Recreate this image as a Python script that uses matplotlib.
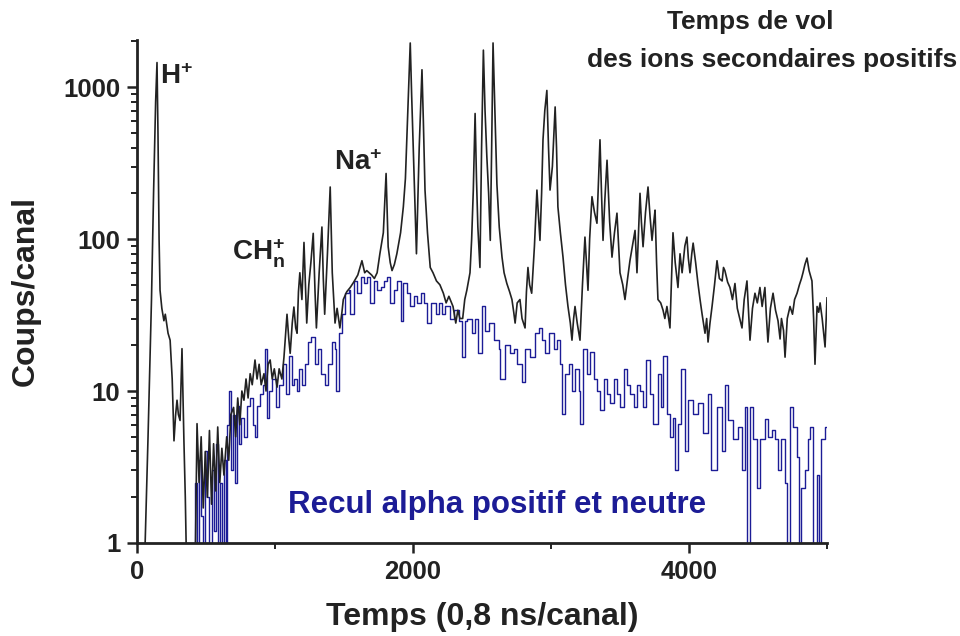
"""Temps de vol des ions secondaires positifs (log scale spectrum)"""
import matplotlib
matplotlib.use("Agg")
import matplotlib.pyplot as plt
from matplotlib.ticker import LogLocator, NullFormatter, FixedLocator

# canal / coups, spectre des ions secondaires (noir)
ion_channels = [
    0, 50, 80, 105, 120, 135, 145, 152, 160, 167, 180, 195, 205, 225, 240,
    255, 268, 280, 290, 300, 312, 326, 340, 350, 362, 380, 400, 420, 435,
    450, 465, 480, 495, 510, 525, 540, 555, 570, 585, 600, 615, 630, 650,
    665, 680, 700, 715, 730, 745, 760, 775, 790, 805, 820, 835, 855, 870,
    885, 900, 920, 935, 950, 965, 980, 995, 1015, 1030, 1050, 1065, 1087,
    1100, 1110, 1125, 1137, 1150, 1160, 1170, 1180, 1195, 1210, 1230, 1245,
    1260, 1277, 1290, 1300, 1320, 1340, 1350, 1360, 1380, 1400, 1415, 1435,
    1450, 1470, 1485, 1495, 1520, 1545, 1570, 1600, 1630, 1650, 1665, 1700,
    1720, 1740, 1760, 1785, 1805, 1820, 1835, 1848, 1865, 1883, 1910, 1930,
    1945, 1955, 1970, 1980, 1990, 2000, 2012, 2025, 2045, 2065, 2075, 2087,
    2105, 2125, 2145, 2170, 2195, 2220, 2240, 2260, 2290, 2310, 2325, 2340,
    2360, 2375, 2390, 2413, 2425, 2437, 2450, 2460, 2470, 2485, 2497, 2510,
    2522, 2535, 2548, 2560, 2570, 2580, 2595, 2608, 2625, 2645, 2660, 2680,
    2700, 2717, 2730, 2740, 2755, 2775, 2790, 2812, 2822, 2833, 2845, 2860,
    2880, 2898, 2910, 2920, 2932, 2942, 2955, 2970, 2982, 2993, 3010, 3030,
    3040, 3050, 3068, 3087, 3105, 3123, 3140, 3152, 3164, 3174, 3190, 3210,
    3228, 3246, 3257, 3268, 3280, 3297, 3315, 3333, 3345, 3355, 3366, 3377,
    3390, 3406, 3425, 3442, 3460, 3478, 3490, 3500, 3520, 3536, 3555, 3572,
    3590, 3609, 3623, 3645, 3655, 3667, 3685, 3703, 3718, 3732, 3745, 3754,
    3765, 3775, 3795, 3812, 3825, 3840, 3862, 3875, 3884, 3900, 3920, 3935,
    3950, 3970, 3985, 3995, 4007, 4020, 4030, 4048, 4065, 4080, 4095, 4116,
    4128, 4138, 4152, 4167, 4185, 4203, 4220, 4240, 4250, 4260, 4280, 4297,
    4315, 4333, 4350, 4368, 4384, 4400, 4420, 4430, 4442, 4460, 4478, 4495,
    4514, 4530, 4550, 4560, 4572, 4590, 4609, 4627, 4645, 4660, 4670, 4685,
    4696, 4712, 4732, 4750, 4765, 4783, 4800, 4815, 4826, 4840, 4855, 4870,
    4891, 4903, 4913, 4928, 4940, 4950, 4965, 4986, 5000,
]
ion_counts = [
    0.5, 0.5, 5, 40, 200, 800, 1450, 500, 100, 46, 35, 29, 32, 24, 21.6,
    12, 4.7, 7, 8.7, 7, 6.4, 19, 4.7, 2, 0.5, 0.5, 0.5, 0.5, 6.1,
    2.5, 5, 1.7, 4, 2, 5.5, 1.8, 4.5, 2.2, 5.8, 2.5, 4.2, 2.8, 5,
    3.5, 7, 7.8, 5, 9, 6, 10, 8.7, 12, 9, 13, 11, 16, 12,
    15, 11, 13, 10, 15, 16, 12, 14, 10.6, 14, 12, 16.7, 32,
    22, 17.7, 28, 35.7, 26, 24, 45, 60, 40, 95, 28, 50,
    70, 109, 45, 26, 60, 120, 55, 32, 80, 220, 60, 28,
    35, 26, 33, 40, 45, 48, 52, 58, 72, 60, 62, 58,
    55, 60, 80, 110, 270, 89, 70, 62, 68, 80, 110, 163,
    250, 450, 1100, 1950, 900, 450, 200, 80, 400, 1300, 600, 210,
    110, 65, 60, 53, 50, 44, 38, 42, 36, 28, 34, 30,
    30, 40, 46, 60, 100, 210, 670, 250, 120, 65, 400, 1750,
    700, 350, 200, 98, 400, 1950, 600, 230, 120, 76, 60, 51,
    45, 40, 33, 28, 38, 40, 30, 26, 45, 65, 50, 44,
    90, 210, 140, 98, 200, 450, 700, 950, 400, 210, 300, 740,
    400, 163, 110, 76, 50, 36, 28, 21.6, 30, 36, 28, 21.6,
    50, 103, 70, 46, 100, 190, 150, 127, 250, 450, 200, 98,
    180, 330, 130, 76, 110, 148, 90, 60, 50, 40, 55, 72,
    90, 114, 60, 200, 130, 89, 150, 220, 140, 98, 130, 155,
    70, 40, 38, 34, 30, 36, 26, 60, 110, 70, 48, 80,
    60, 90, 103, 75, 60, 80, 94, 70, 51, 40, 32, 24,
    30, 21, 28, 36, 50, 72, 55, 53, 65, 62, 52, 48,
    40, 51, 35, 30, 26, 40, 53, 35, 21.6, 35, 44, 38,
    48, 36, 48, 32, 21, 35, 44, 34, 29, 22, 30, 25,
    16.7, 30, 36, 32, 40, 44, 50, 55, 60, 68, 75, 62,
    53, 30, 15, 36, 33, 38, 30, 19.5, 41,
]

# canal / coups, recul alpha positif et neutre (bleu)
recoil_channels = [
    400, 420, 435, 450, 465, 480, 495, 510, 525, 540, 555, 570, 585, 600,
    615, 630, 645, 655, 668, 680, 695, 710, 725, 740, 755, 775, 795, 820,
    840, 855, 870, 890, 910, 925, 945, 960, 980, 1005, 1030, 1055, 1080,
    1105, 1125, 1140, 1160, 1175, 1195, 1215, 1240, 1260, 1290, 1315, 1335,
    1360, 1385, 1410, 1435, 1445, 1465, 1485, 1510, 1535, 1545, 1570, 1595,
    1620, 1645, 1665, 1690, 1715, 1740, 1765, 1790, 1815, 1835, 1860, 1885,
    1910, 1930, 1955, 1980, 2005, 2030, 2055, 2080, 2100, 2130, 2165, 2190,
    2210, 2235, 2270, 2295, 2330, 2355, 2380, 2390, 2425, 2450, 2470, 2500,
    2525, 2550, 2585, 2620, 2632, 2670, 2705, 2730, 2755, 2790, 2815, 2850,
    2887, 2910, 2935, 2960, 2983, 3020, 3043, 3068, 3080, 3105, 3128, 3152,
    3177, 3200, 3213, 3232, 3262, 3285, 3310, 3333, 3358, 3382, 3406, 3430,
    3455, 3478, 3503, 3527, 3550, 3575, 3600, 3623, 3645, 3667, 3690, 3715,
    3740, 3775, 3800, 3812, 3837, 3862, 3885, 3898, 3920, 3945, 3970, 3995,
    4030, 4067, 4103, 4140, 4163, 4200, 4236, 4260, 4284, 4320, 4357, 4381,
    4405, 4421, 4442, 4466, 4490, 4514, 4550, 4574, 4598, 4622, 4647, 4670,
    4695, 4710, 4730, 4755, 4780, 4800, 4815, 4840, 4862, 4880, 4900, 4925,
    4945, 4960, 4985, 5000,
]
recoil_counts = [
    0.5, 2.5, 0.5, 3.5, 1.5, 0.5, 4, 2, 0.5, 3, 1.2, 4.5, 0.5, 2.5,
    0.5, 3.5, 0.5, 6, 10, 3, 7, 2.5, 8, 4.5, 6.6, 5, 8, 9,
    6, 5, 8, 9.5, 11, 19, 6.6, 10, 12, 7.8, 11, 15, 9.5,
    17, 11, 12, 10, 14, 11, 15, 21, 22.7, 15, 19, 13,
    11, 15, 21, 19, 10, 24, 32, 44, 46, 32, 53, 44,
    56, 51, 56, 38, 53, 46, 48, 53, 56, 38, 46, 53,
    29, 51, 44, 36, 42, 38, 44, 38, 28, 38, 32, 38,
    32, 36, 30, 34, 29, 16.7, 29, 30, 24, 30, 17.7, 36,
    25, 28, 21.6, 19, 12, 20, 17.7, 19, 15, 11.5, 19, 16.7,
    24, 26, 21.6, 17.7, 24, 19, 21.6, 15, 7.1, 13, 15, 10,
    14, 10, 6.1, 19, 13, 18, 12, 10, 7.5, 12, 9.5, 8.3,
    12, 9.5, 7.8, 14, 11, 9.5, 7.8, 11, 10, 7.8, 16, 9.5,
    6.1, 13, 7.8, 17, 7.1, 5, 6.6, 3, 6.1, 14, 4, 8.7,
    7.1, 8.3, 5.3, 9.5, 3, 7.8, 4, 11, 6.4, 4.8, 5.8, 3,
    7.8, 0.5, 7.8, 4.8, 2.3, 4.8, 6.5, 5, 5.5, 4.8, 3, 4.8,
    2.5, 0.5, 7.8, 5.8, 3.7, 0.5, 2.3, 3, 4.8, 5.8, 0.5, 2.8,
    0.5, 4.8, 5.8, 5.8,
]

plt.rcParams['font.family'] = ['Liberation Sans', 'DejaVu Sans']
plt.rcParams['font.weight'] = 'bold'
plt.rcParams['mathtext.fontset'] = 'custom'
plt.rcParams['mathtext.rm'] = 'Liberation Sans:bold'
plt.rcParams['mathtext.bf'] = 'Liberation Sans:bold'
plt.rcParams['mathtext.default'] = 'bf'

ink = '#222222'
blue = '#1c1c96'

fig = plt.figure(figsize=(9.6, 6.36), dpi=100)
ax = fig.add_axes([137 / 960, 93 / 636, 690 / 960, 503 / 636])

ax.plot(recoil_channels, recoil_counts, drawstyle='steps-post',
        color=blue, linewidth=1.0)
ax.plot(ion_channels, ion_counts, color=ink, linewidth=1.2)

ax.set_yscale('log')
ax.set_xlim(0, 5000)
ax.set_ylim(1, 2040)

ax.set_yticks([1, 10, 100, 1000])
ax.set_yticklabels(['1', '10', '100', '1000'])
ax.yaxis.set_minor_locator(LogLocator(base=10, subs=range(2, 10)))
ax.yaxis.set_minor_formatter(NullFormatter())
ax.set_xticks([0, 2000, 4000])
ax.xaxis.set_minor_locator(FixedLocator([1000, 3000, 5000]))

for side in ('top', 'right'):
    ax.spines[side].set_visible(False)
for side in ('left', 'bottom'):
    ax.spines[side].set_linewidth(2.0)
    ax.spines[side].set_color(ink)

ax.tick_params(which='major', direction='out', length=7.5, width=1.8,
               colors=ink, pad=4.5, labelsize=18.5)
ax.tick_params(which='minor', direction='out', length=4.5, width=1.4,
               colors=ink)

ax.set_xlabel('Temps (0,8 ns/canal)', fontsize=23, fontweight='bold',
              color=ink, labelpad=13)
ax.set_ylabel('Coups/canal', fontsize=23, fontweight='bold', color=ink,
              labelpad=16)

# étiquettes des pics
ax.text(170, 1164, 'H$^{+}$', fontsize=20, color=ink, ha='left', va='center')
ax.text(1601, 316, 'Na$^{+}$', fontsize=20, color=ink, ha='center',
        va='center')
ax.text(688, 81, 'CH$_{n}^{+}$', fontsize=20, color=ink, ha='left',
        va='center')
ax.text(2609, 1.78, 'Recul alpha positif et neutre', fontsize=22.5,
        color=blue, ha='center', va='center')

fig.text(750 / 960, 1 - 22 / 636, 'Temps de vol', fontsize=19,
         color=ink, ha='center', va='center')
fig.text(772 / 960, 1 - 60 / 636, 'des ions secondaires positifs',
         fontsize=19, color=ink, ha='center', va='center')

fig.savefig('out.png', dpi=100)
